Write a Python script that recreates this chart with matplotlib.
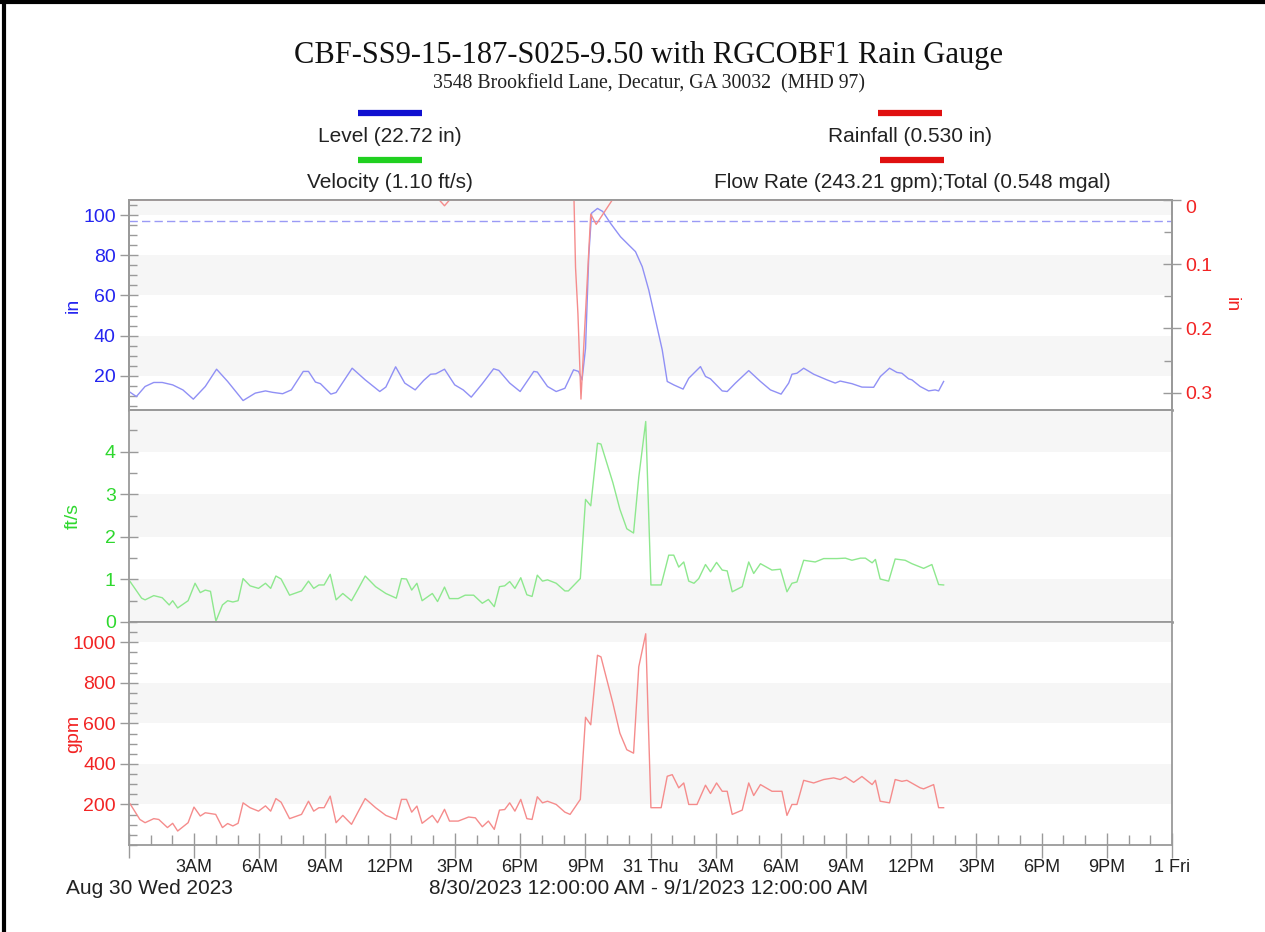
import matplotlib
matplotlib.use('Agg')
import matplotlib.pyplot as plt
from matplotlib.lines import Line2D
from matplotlib.ticker import MultipleLocator

# hours since 8/30/2023 00:00
level_hours = [0, 0.34, 0.74, 1.14, 1.53, 2.01, 2.48, 2.96, 3.51, 4.03, 4.54, 5.25, 5.81, 6.28, 6.60,
               7.07, 7.47, 8.02, 8.26, 8.58, 8.81, 9.29, 9.53, 10.27, 10.87, 11.54, 11.82, 12.27, 12.69,
               13.17, 13.56, 13.88, 14.12, 14.52, 14.99, 15.38, 15.75, 16.26, 16.78, 17.02, 17.52, 18.00,
               18.63, 18.79, 19.26, 19.66, 20.06, 20.46, 20.69, 20.85, 21.01, 21.16, 21.29, 21.56, 21.80,
               22.16, 22.62, 23.0, 23.31, 23.62, 23.92, 24.23, 24.54, 24.77, 25.07, 25.50, 25.76, 26.30,
               26.53, 26.76, 27.30, 27.53, 27.91, 28.52, 29.06, 29.52, 30.01, 30.36, 30.51, 30.74, 31.05,
               31.51, 32.12, 32.5, 32.73, 33.27, 33.73, 34.27, 34.58, 35.0, 35.34, 35.57, 35.88, 36.03,
               36.41, 36.80, 37.10, 37.26, 37.49]
level_in = [12.2, 9.7, 14.7, 16.7, 16.7, 15.5, 13, 8.4, 14.7, 23.3, 17.2, 7.7, 11.4, 12.5, 11.8,
            11.1, 13, 22.2, 22.2, 16.9, 16.1, 10.9, 11.7, 23.8, 18, 12.2, 14.4, 24.5, 16.4,
            13, 17.7, 20.8, 21, 23.3, 15.5, 13, 9.4, 16.1, 23.5, 22.7, 16.4, 12.2,
            22.2, 21.9, 14.7, 12.2, 13.8, 23, 22.2, 18, 33.7, 80, 101, 103.3, 101.8,
            95.9, 89.2, 85.1, 81.8, 74.3, 62.7, 47.8, 32.9, 17.2, 15.5, 13.4, 18.8, 24.6,
            19.7, 18.5, 12.5, 12.2, 16.4, 22.6, 17.2, 13, 10.9, 16.4, 20.8, 21.3, 23.8,
            20.8, 18, 16.4, 17.4, 16.1, 14.4, 14.3, 19.7, 23.8, 21.7, 21.3, 18.5, 18,
            14.7, 12.5, 13, 12.5, 17.2]

rain_hours = [0, 14.28, 14.52, 14.75, 20.48, 20.55, 20.66, 20.80, 21.25, 21.50, 22.24, 37.5]
rain_in = [0, 0, 0.009, 0, 0, 0.105, 0.177, 0.31, 0.022, 0.038, 0, 0]

vel_hours = [0.05, 0.58, 0.74, 1.14, 1.53, 1.85, 2.01, 2.24, 2.72, 3.04, 3.28, 3.51, 3.75, 4.0, 4.30,
             4.54, 4.78, 5.02, 5.25, 5.57, 5.96, 6.28, 6.52, 6.76, 7.0, 7.39, 7.94, 8.26, 8.50, 8.74,
             8.98, 9.26, 9.53, 9.84, 10.24, 10.56, 10.87, 11.35, 11.82, 12.30, 12.54, 12.77, 13.01,
             13.25, 13.49, 13.96, 14.20, 14.52, 14.75, 15.15, 15.47, 15.86, 16.26, 16.54, 16.81, 17.05,
             17.29, 17.52, 17.76, 18.03, 18.31, 18.55, 18.79, 19.03, 19.26, 19.66, 20.06, 20.22, 20.77,
             21.01, 21.25, 21.56, 21.72, 22.27, 22.59, 22.91, 23.22, 23.46, 23.78, 23.89, 24.02, 24.49,
             24.84, 25.07, 25.30, 25.53, 25.76, 26.0, 26.22, 26.53, 26.76, 27.04, 27.30, 27.53, 27.76,
             28.22, 28.52, 28.75, 29.06, 29.59, 29.98, 30.28, 30.51, 30.74, 31.05, 31.58, 31.97, 32.58,
             32.97, 33.27, 33.66, 33.89, 34.20, 34.35, 34.57, 34.96, 35.26, 35.72, 36.03, 36.57, 36.95,
             37.26, 37.49]
vel_fts = [0.95, 0.56, 0.52, 0.62, 0.57, 0.40, 0.50, 0.33, 0.50, 0.91, 0.69, 0.75, 0.72, 0.02, 0.40,
           0.50, 0.47, 0.50, 1.02, 0.85, 0.79, 0.91, 0.79, 1.08, 1.01, 0.63, 0.73, 0.96, 0.79, 0.87,
           0.87, 1.12, 0.52, 0.67, 0.50, 0.79, 1.08, 0.83, 0.67, 0.56, 1.02, 1.01, 0.75,
           0.91, 0.50, 0.67, 0.48, 0.82, 0.55, 0.55, 0.63, 0.63, 0.44, 0.53, 0.36, 0.83,
           0.85, 0.95, 0.79, 1.04, 0.64, 0.60, 1.10, 0.96, 0.99, 0.91, 0.73, 0.73, 1.02,
           2.88, 2.73, 4.20, 4.18, 3.27, 2.65, 2.19, 2.09, 3.40, 4.71, 2.96, 0.87, 0.87,
           1.57, 1.57, 1.29, 1.41, 0.96, 0.91, 1.02, 1.35, 1.18, 1.40, 1.22, 1.20, 0.71,
           0.83, 1.41, 1.14, 1.37, 1.22, 1.24, 0.71, 0.91, 0.94, 1.45, 1.41, 1.49, 1.49,
           1.50, 1.45, 1.50, 1.50, 1.39, 1.47, 1.01, 0.96, 1.48, 1.45, 1.37, 1.26, 1.35,
           0.88, 0.87]

flow_hours = [0.05, 0.50, 0.74, 1.14, 1.37, 1.77, 2.01, 2.24, 2.72, 2.99, 3.28, 3.51, 3.99, 4.30, 4.54,
              4.78, 5.02, 5.25, 5.57, 5.96, 6.28, 6.52, 6.76, 7.0, 7.39, 7.94, 8.26, 8.50, 8.74, 8.98,
              9.26, 9.53, 9.84, 10.24, 10.56, 10.87, 11.35, 11.82, 12.30, 12.54, 12.77, 13.01, 13.25,
              13.49, 13.96, 14.20, 14.52, 14.75, 15.15, 15.63, 15.94, 16.26, 16.54, 16.81, 17.05, 17.29,
              17.52, 17.76, 18.03, 18.31, 18.55, 18.79, 19.03, 19.26, 19.66, 20.06, 20.30, 20.77, 21.01,
              21.25, 21.56, 21.72, 22.27, 22.59, 22.91, 23.22, 23.46, 23.78, 23.89, 24.02, 24.49, 24.77,
              25.0, 25.30, 25.53, 25.76, 26.14, 26.53, 26.76, 27.04, 27.30, 27.53, 27.76, 28.22, 28.52,
              28.75, 29.06, 29.59, 30.05, 30.28, 30.51, 30.74, 31.05, 31.51, 31.97, 32.43, 32.73, 32.97,
              33.35, 33.73, 34.20, 34.35, 34.57, 35.0, 35.26, 35.57, 35.80, 36.41, 36.57, 37.03, 37.26,
              37.49]
flow_gpm = [203, 126, 110, 130, 126, 86, 107, 69, 110, 187, 143, 159, 151, 86, 106,
            94, 107, 208, 184, 167, 193, 167, 229, 211, 130, 151, 216, 167, 184, 184,
            241, 110, 146, 102, 167, 229, 184, 146, 126, 225, 225, 162, 192,
            107, 146, 110, 176, 118, 118, 138, 134, 90, 118, 77, 172, 175,
            208, 167, 225, 130, 126, 238, 208, 216, 200, 162, 151, 225, 630,
            593, 936, 928, 699, 552, 470, 453, 879, 1042, 640, 184, 184, 339,
            347, 282, 306, 200, 200, 295, 254, 306, 265, 265, 151, 172, 306,
            244, 298, 265, 265, 146, 200, 200, 319, 306, 323, 331, 323, 336,
            309, 338, 298, 319, 216, 208, 323, 314, 319, 282, 277, 298, 184,
            184]

tick_hours = list(range(0, 49, 3))
tick_labels = ['', '3AM', '6AM', '9AM', '12PM', '3PM', '6PM', '9PM', '31 Thu',
               '3AM', '6AM', '9AM', '12PM', '3PM', '6PM', '9PM', '1 Fri']

BLUE = '#2424f0'
GREEN = '#2ed82e'
RED = '#f22424'
BAND = '#f6f6f6'
SPINE = '#9a9a9a'
sans = 'Liberation Sans'

W, H = 1265, 932
fig = plt.figure(figsize=(W / 100, H / 100), dpi=100)
plt.rcParams['font.family'] = sans


def ax_at(top, bottom):
    left, right = 129, 1172
    return fig.add_axes([left / W, 1 - bottom / H, (right - left) / W, (bottom - top) / H])


def style_y(ax, color, major, minor):
    ax.yaxis.set_major_locator(MultipleLocator(major))
    ax.yaxis.set_minor_locator(MultipleLocator(minor))
    ax.tick_params(axis='y', which='major', direction='inout', length=13, width=1,
                   color=SPINE, labelcolor=color, labelsize=14, pad=3)
    ax.tick_params(axis='y', which='minor', direction='in', length=6, width=1, color=SPINE)
    for s in ax.spines.values():
        s.set_color(SPINE)
        s.set_linewidth(1.3)


ax1 = ax_at(200, 410)
ax2 = ax_at(410, 622)
ax3 = ax_at(622, 845)

for ax, bands in [(ax1, [(20, 40), (60, 80), (100, 120)]),
                  (ax2, [(0, 1), (2, 3), (4, 5)]),
                  (ax3, [(200, 400), (600, 800), (1000, 1200)])]:
    for lo, hi in bands:
        ax.axhspan(lo, hi, color=BAND, zorder=0, lw=0)
    ax.set_xlim(0, 48)

# level + rainfall
ax1.plot(level_hours, level_in, color='#9090f5', lw=1.0)
ax1.axhline(97, color='#9a9af5', lw=1.0, ls=(0, (6, 3)))
ax1.set_ylim(3, 107.5)
style_y(ax1, BLUE, 20, 5)
ax1.set_ylabel('in', color=BLUE, fontsize=14)
ax1.yaxis.set_label_coords(-0.045, 0.5)

axr = ax1.twinx()
axr.plot(rain_hours, rain_in, color='#f58c8c', lw=1.0)
axr.set_ylim(0.327, 0)
style_y(axr, RED, 0.1, 0.05)
axr.set_yticks([0, 0.1, 0.2, 0.3])
axr.set_yticklabels(['0', '0.1', '0.2', '0.3'])
axr.get_yticklabels()[0].set_va('top')
axr.set_ylabel('in', color=RED, fontsize=14, rotation=270)
axr.yaxis.set_label_coords(1.065, 0.5)

# velocity
ax2.plot(vel_hours, vel_fts, color='#8ee88e', lw=1.0)
ax2.set_ylim(0, 4.98)
style_y(ax2, GREEN, 1, 0.5)
ax2.get_yticklabels()[0].set_va('bottom')
ax2.set_ylabel('ft/s', color=GREEN, fontsize=14)
ax2.yaxis.set_label_coords(-0.045, 0.5)

# flow rate
ax3.plot(flow_hours, flow_gpm, color='#f58c8c', lw=1.0)
ax3.set_ylim(0, 1100)
style_y(ax3, RED, 200, 50)
ax3.set_yticks([200, 400, 600, 800, 1000])
ax3.set_ylabel('gpm', color=RED, fontsize=14)
ax3.yaxis.set_label_coords(-0.045, 0.5)

for ax in (ax1, axr, ax2):
    ax.tick_params(axis='x', which='both', bottom=False, labelbottom=False)
for ax in (ax1, ax2):
    ax.spines['bottom'].set_color('#7a7a7a')
    ax.spines['bottom'].set_linewidth(1.8)

ax3.set_xticks(tick_hours)
ax3.set_xticklabels(tick_labels)
ax3.xaxis.set_minor_locator(MultipleLocator(1))
ax3.tick_params(axis='x', which='major', direction='inout', length=18, width=1,
                color=SPINE, labelsize=13, labelcolor='#222222', pad=1)
ax3.tick_params(axis='x', which='minor', direction='in', length=7, width=1, color=SPINE)

# titles
fig.text(648 / W, 1 - 56 / H, 'CBF-SS9-15-187-S025-9.50 with RGCOBF1 Rain Gauge',
         family='Liberation Serif', fontsize=22, ha='center', va='center', color='#111111')
fig.text(649 / W, 1 - 84 / H, '3548 Brookfield Lane, Decatur, GA 30032  (MHD 97)',
         family='Liberation Serif', fontsize=14.2, ha='center', va='center', color='#222222')

# legend
legend_items = [(390, 113, 136, '#1010d0', 'Level (22.72 in)'),
                (390, 160, 183, '#20d020', 'Velocity (1.10 ft/s)'),
                (910, 113, 136, '#e01010', 'Rainfall (0.530 in)'),
                (912, 160, 183, '#e01010', 'Flow Rate (243.21 gpm);Total (0.548 mgal)')]
for cx, ly, ty, col, label in legend_items:
    fig.add_artist(Line2D([(cx - 32) / W, (cx + 32) / W], [1 - ly / H, 1 - ly / H],
                          color=col, lw=4.5, solid_capstyle='butt'))
    fig.text(cx / W, 1 - ty / H, label, fontsize=15, ha='center', va='center', color='#222222')

fig.text(149 / W, 1 - 888 / H, 'Aug 30 Wed 2023', fontsize=15, ha='center', va='center', color='#222222')
fig.text(649 / W, 1 - 888 / H, '8/30/2023 12:00:00 AM - 9/1/2023 12:00:00 AM', fontsize=15,
         ha='center', va='center', color='#222222')

# screenshot frame
fig.add_artist(Line2D([4 / W, 4 / W], [0, 1], color='black', lw=3))
fig.add_artist(Line2D([0, 1], [1 - 2 / H, 1 - 2 / H], color='black', lw=3))

fig.savefig('out.png', dpi=100)
